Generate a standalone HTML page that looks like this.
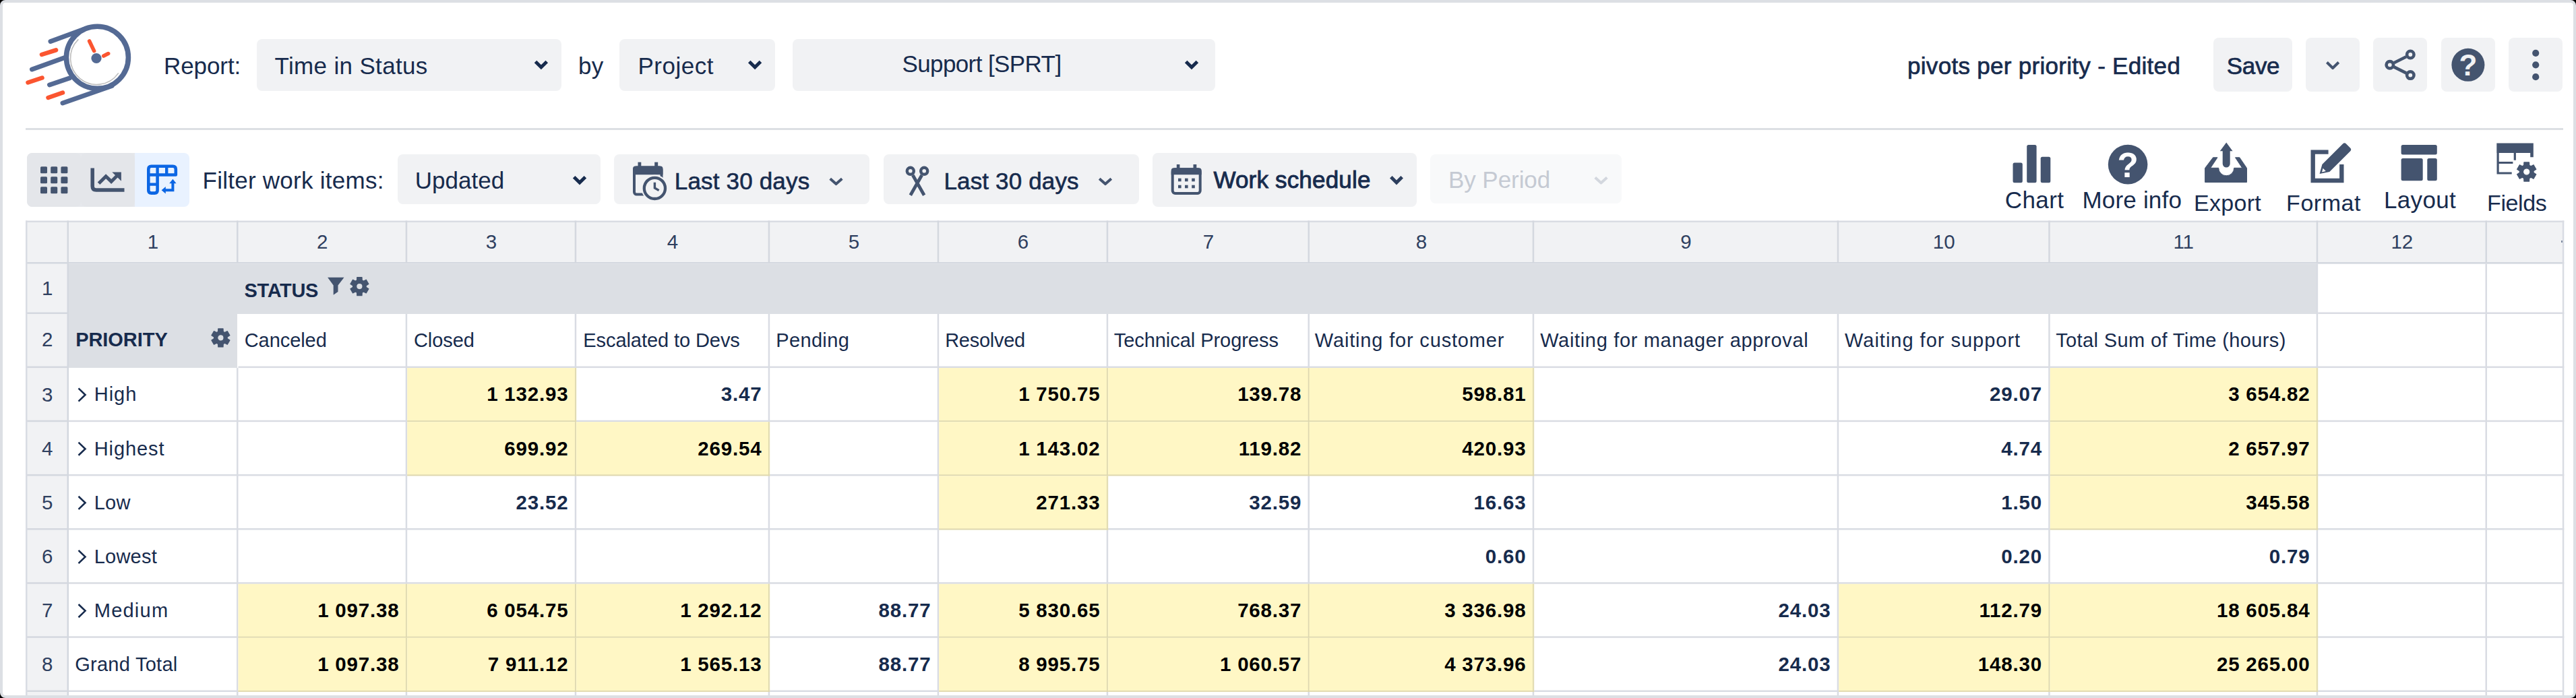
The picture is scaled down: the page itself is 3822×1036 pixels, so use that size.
<!DOCTYPE html>
<html><head><meta charset="utf-8"><title>Time in Status</title>
<style>
html,body{margin:0;padding:0;background:#000;}
body{width:3822px;height:1036px;overflow:hidden;position:relative;font-family:"Liberation Sans",sans-serif;}
#frame{position:absolute;left:0;top:0;width:3814px;height:1028px;border:4px solid #dcdfe4;border-radius:8px;background:#fff;overflow:hidden}
#page{position:absolute;left:0;top:0;width:3822px;height:1036px;}
#clip{position:absolute;left:4px;top:4px;width:3814px;height:1028px;overflow:hidden;border-radius:5px}
#clip>#page{left:-4px;top:-4px}
</style></head><body>
<div id="frame"></div>
<div id="clip"><div id="page">
<svg style="position:absolute;left:0;top:0;overflow:visible" width="3822" height="1036" viewBox="0 0 3822 1036">
<g fill="none" stroke-linecap="round">
 <g stroke="#546a94" stroke-width="7">
  <circle cx="144.4" cy="85.3" r="46" stroke-width="7.6"/>
  <path d="M75 61.5 L128 42"/>
  <path d="M47.5 103 L96 85.5"/>
  <path d="M73.5 126 L103 116"/>
  <path d="M93 153 L166 127.5"/>
 </g>
 <path d="M115.9 58.9 A39 39 0 1 0 175.4 108.9" stroke="#bdbdbd" stroke-width="1.6"/>
 <g stroke="#fb5530" stroke-width="6.5">
  <path d="M62 81 L83 74.3"/>
  <path d="M41.5 122.5 L62.5 115.5"/>
  <path d="M71.5 145 L93 137.5"/>
 </g>
 <g stroke="#fb5530" stroke-width="5.6" stroke-linecap="round">
  <path d="M132.6 61 L139.6 75.6" stroke-linecap="round"/>
  <path d="M153.8 83 L160.6 79.6"/>
 </g>
 <circle cx="143" cy="86.5" r="7.6" fill="#546a94" stroke="none"/>
</g></svg>
<div style="position:absolute;left:381.00px;top:58.00px;width:452.00px;height:76.50px;background:#f1f2f4;border-radius:8px;"></div>
<div style="position:absolute;left:919.00px;top:58.00px;width:231.00px;height:76.50px;background:#f1f2f4;border-radius:8px;"></div>
<div style="position:absolute;left:1176.00px;top:58.00px;width:626.60px;height:76.50px;background:#f1f2f4;border-radius:8px;"></div>
<svg style="position:absolute;left:0;top:0;overflow:visible" width="3822" height="1036" viewBox="0 0 3822 1036"><path d="M794.5 91.55 L802.9 99.85000000000001 L811.3 91.55" fill="none" stroke="#172b4d" stroke-width="5" stroke-linecap="butt" stroke-linejoin="miter"/><path d="M1111.6999999999998 91.55 L1120.1 99.85000000000001 L1128.5 91.55" fill="none" stroke="#172b4d" stroke-width="5" stroke-linecap="butt" stroke-linejoin="miter"/><path d="M1759.6 91.55 L1768 99.85000000000001 L1776.4 91.55" fill="none" stroke="#172b4d" stroke-width="5" stroke-linecap="butt" stroke-linejoin="miter"/></svg>
<div style="position:absolute;left:3284.40px;top:56.00px;width:116.30px;height:80.00px;background:#f1f2f4;border-radius:8px;"></div>
<div style="position:absolute;left:3421.00px;top:56.00px;width:80.00px;height:80.00px;background:#f1f2f4;border-radius:8px;"></div>
<div style="position:absolute;left:3521.40px;top:56.00px;width:80.00px;height:80.00px;background:#f1f2f4;border-radius:8px;"></div>
<div style="position:absolute;left:3621.70px;top:56.00px;width:80.00px;height:80.00px;background:#f1f2f4;border-radius:8px;"></div>
<div style="position:absolute;left:3722.00px;top:56.00px;width:80.00px;height:80.00px;background:#f1f2f4;border-radius:8px;"></div>
<svg style="position:absolute;left:0;top:0;overflow:visible" width="3822" height="1036" viewBox="0 0 3822 1036"><path d="M3452.4 92.55 L3461.1 101.05 L3469.7999999999997 92.55" fill="none" stroke="#44546f" stroke-width="4" stroke-linecap="butt" stroke-linejoin="round"/><g fill="none" stroke="#44546f" stroke-width="4.6"><path d="M3570 84.2 L3552 93.2 M3552 99.4 L3570 108.4"/><circle cx="3576.3" cy="81" r="5.2"/><circle cx="3545.8" cy="96.3" r="5.2"/><circle cx="3576.3" cy="111.6" r="5.2"/></g><circle cx="3661.9" cy="96.3" r="24.5" fill="#44546f"/><circle cx="3762.2" cy="78.8" r="5.1" fill="#44546f"/><circle cx="3762.2" cy="96.3" r="5.1" fill="#44546f"/><circle cx="3762.2" cy="114.2" r="5.1" fill="#44546f"/></svg>
<div style="position:absolute;left:38.00px;top:190.20px;width:3764.60px;height:2.40px;background:#dcdfe4;border-radius:0px;"></div>
<div style="position:absolute;left:40.00px;top:227.00px;width:200.00px;height:80.00px;background:#e6e8ec;border-radius:8px;"></div>
<div style="position:absolute;left:40.00px;top:227.00px;width:80.00px;height:80.00px;background:#e4e6ea;border-radius:8px;"></div>
<div style="position:absolute;left:120.00px;top:227.00px;width:80.00px;height:80.00px;background:#e4e6ea;border-radius:8px;"></div>
<div style="position:absolute;left:200.00px;top:227.00px;width:81.00px;height:80.00px;background:#e9f2ff;border-radius:0px;border-radius:0 8px 8px 0;"></div>
<svg style="position:absolute;left:0;top:0;overflow:visible" width="3822" height="1036" viewBox="0 0 3822 1036"><rect x="60.0" y="247.3" width="10" height="10" rx="1.5" fill="#44546f"/><rect x="75.2" y="247.3" width="10" height="10" rx="1.5" fill="#44546f"/><rect x="90.4" y="247.3" width="10" height="10" rx="1.5" fill="#44546f"/><rect x="60.0" y="262.3" width="10" height="10" rx="1.5" fill="#44546f"/><rect x="75.2" y="262.3" width="10" height="10" rx="1.5" fill="#44546f"/><rect x="90.4" y="262.3" width="10" height="10" rx="1.5" fill="#44546f"/><rect x="60.0" y="277.3" width="10" height="10" rx="1.5" fill="#44546f"/><rect x="75.2" y="277.3" width="10" height="10" rx="1.5" fill="#44546f"/><rect x="90.4" y="277.3" width="10" height="10" rx="1.5" fill="#44546f"/><path d="M137.2 249.5 V276.5 Q137.2 282 142.7 282 H184.5" fill="none" stroke="#44546f" stroke-width="5.5" stroke-linecap="butt"/><path d="M146.5 272.3 L157.1 261.7 L165.1 269.4 L175 259.5" fill="none" stroke="#44546f" stroke-width="5" stroke-linejoin="miter"/><path d="M166.3 255.4 H179.9 V268.8 Z" fill="#44546f"/><g fill="none" stroke="#0c66e4" stroke-width="4.6" stroke-linejoin="round"><path d="M224.5 246.8 H256.5 Q260.8 246.8 260.8 251 V259.5 H233.6 V282.5 Q233.6 286.6 229.5 286.6 H224.5 Q220.3 286.6 220.3 282.5 V251 Q220.3 246.8 224.5 246.8Z"/><path d="M233.6 246.8 V259.5 M247.2 246.8 V259.5 M220.3 259.5 H233.6 M220.3 273.6 H233.6" stroke-width="4.4"/></g><path d="M256.4 270 V282.2 H244" fill="none" stroke="#0c66e4" stroke-width="4"/><path d="M251.2 272.2 L256.4 265.8 L261.6 272.2Z M245.8 277 L239.6 282.2 L245.8 287.4Z" fill="#0c66e4"/></svg>
<div style="position:absolute;left:590.00px;top:229.00px;width:301.00px;height:74.00px;background:#f1f2f4;border-radius:8px;"></div>
<div style="position:absolute;left:911.20px;top:229.00px;width:379.30px;height:74.00px;background:#f1f2f4;border-radius:8px;"></div>
<div style="position:absolute;left:1310.80px;top:229.00px;width:379.70px;height:74.00px;background:#f1f2f4;border-radius:8px;"></div>
<div style="position:absolute;left:1710.40px;top:226.60px;width:391.50px;height:80.20px;background:#f1f2f4;border-radius:8px;"></div>
<div style="position:absolute;left:2121.70px;top:228.60px;width:284.70px;height:73.80px;background:#f8f9fa;border-radius:8px;"></div>
<svg style="position:absolute;left:0;top:0;overflow:visible" width="3822" height="1036" viewBox="0 0 3822 1036"><path d="M851.6 262.75 L860 271.04999999999995 L868.4 262.75" fill="none" stroke="#172b4d" stroke-width="5" stroke-linecap="butt" stroke-linejoin="miter"/><path d="M1231.7 265.3 L1240.5 273.09999999999997 L1249.3 265.3" fill="none" stroke="#44546f" stroke-width="4" stroke-linecap="butt" stroke-linejoin="round"/><path d="M1631.2 265.3 L1640 273.09999999999997 L1648.8 265.3" fill="none" stroke="#44546f" stroke-width="4" stroke-linecap="butt" stroke-linejoin="round"/><path d="M2063.8 262.79999999999995 L2072 271.0 L2080.2 262.79999999999995" fill="none" stroke="#2c3e5d" stroke-width="5" stroke-linecap="butt" stroke-linejoin="miter"/><path d="M2366.7 263.6 L2375.5 271.4 L2384.3 263.6" fill="none" stroke="#d3d7de" stroke-width="4" stroke-linecap="butt" stroke-linejoin="round"/><g><rect x="941" y="248.6" width="40.5" height="40" rx="3.5" fill="none" stroke="#44546f" stroke-width="4"/><path d="M939 259.2 V250.6 Q939 246.6 943 246.6 H979.5 Q983.5 246.6 983.5 250.6 V259.2Z" fill="#44546f"/><rect x="946.5" y="240.7" width="4.8" height="8" fill="#44546f"/><rect x="971.2" y="240.7" width="5" height="8" fill="#44546f"/><circle cx="971.4" cy="279.4" r="19.8" fill="#f1f2f4"/><circle cx="971.4" cy="279.4" r="15.6" fill="#f1f2f4" stroke="#44546f" stroke-width="4.3"/><path d="M971.4 270.8 V279 L977.6 282.6" fill="none" stroke="#44546f" stroke-width="3.4"/></g><g fill="none" stroke="#44546f" stroke-width="4.4"><circle cx="1350.8" cy="253.8" r="5"/><circle cx="1371.2" cy="253.8" r="5"/><path d="M1354.3 260 L1371.2 289.8 M1367.7 260 L1350.8 289.8" stroke-width="4.8"/></g><g><rect x="1739.7" y="251.3" width="41" height="35.7" rx="4" fill="none" stroke="#44546f" stroke-width="4"/><path d="M1737.7 259.3 V253.3 Q1737.7 249.3 1741.7 249.3 H1778.7 Q1782.7 249.3 1782.7 253.3 V259.3Z" fill="#44546f"/><rect x="1745.8" y="244" width="4.6" height="7" fill="#44546f"/><rect x="1770.5" y="244" width="4.8" height="7" fill="#44546f"/><rect x="1748.0" y="264.7" width="4.6" height="4.6" fill="#44546f"/><rect x="1748.0" y="274.7" width="4.6" height="4.6" fill="#44546f"/><rect x="1758.0" y="264.7" width="4.6" height="4.6" fill="#44546f"/><rect x="1758.0" y="274.7" width="4.6" height="4.6" fill="#44546f"/><rect x="1768.2" y="264.7" width="4.6" height="4.6" fill="#44546f"/><rect x="1768.2" y="274.7" width="4.6" height="4.6" fill="#44546f"/></g></svg>
<svg style="position:absolute;left:0;top:0;overflow:visible" width="3822" height="1036" viewBox="0 0 3822 1036"><rect x="2986.5" y="241.5" width="14.3" height="29.7" rx="2.5" fill="#44546f"/><rect x="3007.2" y="215" width="14.4" height="56.2" rx="2.5" fill="#44546f"/><rect x="3027.7" y="232.7" width="14.6" height="38.5" rx="2.5" fill="#44546f"/><circle cx="3157.1" cy="244.1" r="29.3" fill="#44546f"/><path d="M3271.6 270.5 V249.5 L3283.5 233.8 H3290 L3279.7 249.3 H3291.7 A11.5 11.5 0 0 0 3314.7 249.3 H3326.7 L3316.5 233.8 H3322.8 L3333.5 249.5 V270.5Z" fill="#44546f" stroke="#44546f" stroke-width="1" stroke-linejoin="round"/><path d="M3303.2 211.5 L3312.6 224.3 H3308.7 V243 A5.5 5.5 0 0 1 3297.7 243 V224.3 H3293.8Z" fill="#44546f"/><path d="M3454.6 225.6 H3431.7 V268 H3474.3 V244.1" fill="none" stroke="#44546f" stroke-width="6.4"/><path d="M3445.4 244.1 L3476 213.5 Q3478.5 211 3481 213.5 L3487 219.5 Q3489.5 222 3487 224.5 L3456.3 255 L3441.6 257.9Z" fill="#44546f"/><path d="M3446.6 249.8 L3450.8 254 L3445 255.4Z" fill="#fff"/><rect x="3562.6" y="215" width="53.2" height="14.5" rx="2.5" fill="#44546f"/><rect x="3562.6" y="235.1" width="32.1" height="33.1" rx="2.5" fill="#44546f"/><rect x="3601.3" y="235.1" width="14.5" height="33.1" rx="2.5" fill="#44546f"/><path d="M3704.3 212.4 H3758.8 V233.2 H3754.2 V227 H3704.3Z" fill="#44546f"/><path d="M3706.1 227 V257 H3726.7 M3706.1 241.5 H3728.4 M3731.3 227 V237.8" fill="none" stroke="#44546f" stroke-width="3.2"/><path d="M3753.90 245.99 L3752.73 245.41 L3752.48 240.90 L3744.92 240.90 L3744.67 245.41 L3743.50 245.99 L3742.41 246.72 L3738.38 244.68 L3734.60 251.22 L3738.38 253.70 L3738.30 255.00 L3738.38 256.30 L3734.60 258.78 L3738.38 265.32 L3742.41 263.28 L3743.50 264.01 L3744.67 264.59 L3744.92 269.10 L3752.48 269.10 L3752.73 264.59 L3753.90 264.01 L3754.99 263.28 L3759.02 265.32 L3762.80 258.78 L3759.02 256.30 L3759.10 255.00 L3759.02 253.70 L3762.80 251.22 L3759.02 244.68 L3754.99 246.72Z M3743.50 255.00 a5.2 5.2 0 1 0 10.4 0 a5.2 5.2 0 1 0 -10.4 0Z" fill="#44546f" fill-rule="evenodd" stroke="#44546f" stroke-width="1.2" stroke-linejoin="round"/></svg>
<div style="position:absolute;left:38.00px;top:327.50px;width:3766.30px;height:704.50px;background:#fff;border-radius:0px;"></div>
<div style="position:absolute;left:38.00px;top:327.50px;width:3766.30px;height:64.00px;background:#f1f2f4;border-radius:0px;"></div>
<div style="position:absolute;left:38.00px;top:327.50px;width:64.00px;height:704.50px;background:#f1f2f4;border-radius:0px;"></div>
<div style="position:absolute;left:102.00px;top:391.50px;width:3335.30px;height:74.50px;background:#dcdfe4;border-radius:0px;"></div>
<div style="position:absolute;left:102.00px;top:391.50px;width:250.30px;height:154.60px;background:#dcdfe4;border-radius:0px;"></div>
<svg style="position:absolute;left:0;top:0;overflow:visible" width="3822" height="1036" viewBox="0 0 3822 1036"><rect x="38.00" y="327.50" width="3766.30" height="2.5" fill="#d9dce3"/><rect x="38.00" y="389.00" width="3766.30" height="2.5" fill="#d4d8df"/><rect x="38.00" y="463.50" width="64.00" height="2.5" fill="#d4d8df"/><rect x="38.00" y="543.60" width="64.00" height="2.5" fill="#d4d8df"/><rect x="38.00" y="623.70" width="64.00" height="2.5" fill="#d4d8df"/><rect x="38.00" y="703.90" width="64.00" height="2.5" fill="#d4d8df"/><rect x="38.00" y="784.00" width="64.00" height="2.5" fill="#d4d8df"/><rect x="38.00" y="864.20" width="64.00" height="2.5" fill="#d4d8df"/><rect x="38.00" y="944.30" width="64.00" height="2.5" fill="#d4d8df"/><rect x="38.00" y="1024.50" width="64.00" height="2.5" fill="#d4d8df"/><rect x="3439.20" y="463.50" width="365.10" height="2.5" fill="#d9dce3"/><rect x="353.50" y="543.60" width="3450.80" height="2.5" fill="#d9dce3"/><rect x="102.00" y="623.70" width="3702.30" height="2.5" fill="#d9dce3"/><rect x="102.00" y="703.90" width="3702.30" height="2.5" fill="#d9dce3"/><rect x="102.00" y="784.00" width="3702.30" height="2.5" fill="#d9dce3"/><rect x="102.00" y="864.20" width="3702.30" height="2.5" fill="#d9dce3"/><rect x="102.00" y="944.30" width="3702.30" height="2.5" fill="#d9dce3"/><rect x="102.00" y="1024.50" width="3702.30" height="2.5" fill="#d9dce3"/><rect x="38.00" y="327.50" width="2.5" height="704.50" fill="#d9dce3"/><rect x="99.50" y="327.50" width="2.5" height="704.50" fill="#d4d8df"/><rect x="351.00" y="327.50" width="2.5" height="61.50" fill="#d4d8df"/><rect x="601.70" y="327.50" width="2.5" height="61.50" fill="#d4d8df"/><rect x="852.70" y="327.50" width="2.5" height="61.50" fill="#d4d8df"/><rect x="1139.70" y="327.50" width="2.5" height="61.50" fill="#d4d8df"/><rect x="1390.70" y="327.50" width="2.5" height="61.50" fill="#d4d8df"/><rect x="1641.70" y="327.50" width="2.5" height="61.50" fill="#d4d8df"/><rect x="1940.50" y="327.50" width="2.5" height="61.50" fill="#d4d8df"/><rect x="2273.70" y="327.50" width="2.5" height="61.50" fill="#d4d8df"/><rect x="2725.70" y="327.50" width="2.5" height="61.50" fill="#d4d8df"/><rect x="3039.20" y="327.50" width="2.5" height="61.50" fill="#d4d8df"/><rect x="3436.70" y="327.50" width="2.5" height="61.50" fill="#d4d8df"/><rect x="3687.50" y="327.50" width="2.5" height="61.50" fill="#d4d8df"/><rect x="3801.80" y="327.50" width="2.5" height="704.50" fill="#d9dce3"/><rect x="351.00" y="546.10" width="2.5" height="485.90" fill="#d9dce3"/><rect x="601.70" y="466.00" width="2.5" height="566.00" fill="#d9dce3"/><rect x="852.70" y="466.00" width="2.5" height="566.00" fill="#d9dce3"/><rect x="1139.70" y="466.00" width="2.5" height="566.00" fill="#d9dce3"/><rect x="1390.70" y="466.00" width="2.5" height="566.00" fill="#d9dce3"/><rect x="1641.70" y="466.00" width="2.5" height="566.00" fill="#d9dce3"/><rect x="1940.50" y="466.00" width="2.5" height="566.00" fill="#d9dce3"/><rect x="2273.70" y="466.00" width="2.5" height="566.00" fill="#d9dce3"/><rect x="2725.70" y="466.00" width="2.5" height="566.00" fill="#d9dce3"/><rect x="3039.20" y="466.00" width="2.5" height="566.00" fill="#d9dce3"/><rect x="3436.70" y="391.50" width="2.5" height="640.50" fill="#d9dce3"/><rect x="3687.50" y="391.50" width="2.5" height="640.50" fill="#d9dce3"/><rect x="604.20" y="546.10" width="251.00" height="80.10" fill="#fff7c5"/><rect x="853.00" y="546.10" width="1.7" height="80.10" fill="#ddd7b0"/><rect x="604.20" y="624.20" width="251.00" height="1.7" fill="#ddd7b0"/><rect x="1393.20" y="546.10" width="251.00" height="80.10" fill="#fff7c5"/><rect x="1642.00" y="546.10" width="1.7" height="80.10" fill="#ddd7b0"/><rect x="1393.20" y="624.20" width="251.00" height="1.7" fill="#ddd7b0"/><rect x="1644.20" y="546.10" width="298.80" height="80.10" fill="#fff7c5"/><rect x="1940.80" y="546.10" width="1.7" height="80.10" fill="#ddd7b0"/><rect x="1644.20" y="624.20" width="298.80" height="1.7" fill="#ddd7b0"/><rect x="1943.00" y="546.10" width="333.20" height="80.10" fill="#fff7c5"/><rect x="2274.00" y="546.10" width="1.7" height="80.10" fill="#ddd7b0"/><rect x="1943.00" y="624.20" width="333.20" height="1.7" fill="#ddd7b0"/><rect x="3041.70" y="546.10" width="397.50" height="80.10" fill="#fff7c5"/><rect x="3437.00" y="546.10" width="1.7" height="80.10" fill="#ddd7b0"/><rect x="3041.70" y="624.20" width="397.50" height="1.7" fill="#ddd7b0"/><rect x="604.20" y="626.20" width="251.00" height="80.20" fill="#fff7c5"/><rect x="853.00" y="626.20" width="1.7" height="80.20" fill="#ddd7b0"/><rect x="604.20" y="704.40" width="251.00" height="1.7" fill="#ddd7b0"/><rect x="855.20" y="626.20" width="287.00" height="80.20" fill="#fff7c5"/><rect x="1140.00" y="626.20" width="1.7" height="80.20" fill="#ddd7b0"/><rect x="855.20" y="704.40" width="287.00" height="1.7" fill="#ddd7b0"/><rect x="1393.20" y="626.20" width="251.00" height="80.20" fill="#fff7c5"/><rect x="1642.00" y="626.20" width="1.7" height="80.20" fill="#ddd7b0"/><rect x="1393.20" y="704.40" width="251.00" height="1.7" fill="#ddd7b0"/><rect x="1644.20" y="626.20" width="298.80" height="80.20" fill="#fff7c5"/><rect x="1940.80" y="626.20" width="1.7" height="80.20" fill="#ddd7b0"/><rect x="1644.20" y="704.40" width="298.80" height="1.7" fill="#ddd7b0"/><rect x="1943.00" y="626.20" width="333.20" height="80.20" fill="#fff7c5"/><rect x="2274.00" y="626.20" width="1.7" height="80.20" fill="#ddd7b0"/><rect x="1943.00" y="704.40" width="333.20" height="1.7" fill="#ddd7b0"/><rect x="3041.70" y="626.20" width="397.50" height="80.20" fill="#fff7c5"/><rect x="3437.00" y="626.20" width="1.7" height="80.20" fill="#ddd7b0"/><rect x="3041.70" y="704.40" width="397.50" height="1.7" fill="#ddd7b0"/><rect x="1393.20" y="706.40" width="251.00" height="80.10" fill="#fff7c5"/><rect x="1642.00" y="706.40" width="1.7" height="80.10" fill="#ddd7b0"/><rect x="1393.20" y="784.50" width="251.00" height="1.7" fill="#ddd7b0"/><rect x="3041.70" y="706.40" width="397.50" height="80.10" fill="#fff7c5"/><rect x="3437.00" y="706.40" width="1.7" height="80.10" fill="#ddd7b0"/><rect x="3041.70" y="784.50" width="397.50" height="1.7" fill="#ddd7b0"/><rect x="353.50" y="866.70" width="250.70" height="80.10" fill="#fff7c5"/><rect x="602.00" y="866.70" width="1.7" height="80.10" fill="#ddd7b0"/><rect x="353.50" y="944.80" width="250.70" height="1.7" fill="#ddd7b0"/><rect x="604.20" y="866.70" width="251.00" height="80.10" fill="#fff7c5"/><rect x="853.00" y="866.70" width="1.7" height="80.10" fill="#ddd7b0"/><rect x="604.20" y="944.80" width="251.00" height="1.7" fill="#ddd7b0"/><rect x="855.20" y="866.70" width="287.00" height="80.10" fill="#fff7c5"/><rect x="1140.00" y="866.70" width="1.7" height="80.10" fill="#ddd7b0"/><rect x="855.20" y="944.80" width="287.00" height="1.7" fill="#ddd7b0"/><rect x="1393.20" y="866.70" width="251.00" height="80.10" fill="#fff7c5"/><rect x="1642.00" y="866.70" width="1.7" height="80.10" fill="#ddd7b0"/><rect x="1393.20" y="944.80" width="251.00" height="1.7" fill="#ddd7b0"/><rect x="1644.20" y="866.70" width="298.80" height="80.10" fill="#fff7c5"/><rect x="1940.80" y="866.70" width="1.7" height="80.10" fill="#ddd7b0"/><rect x="1644.20" y="944.80" width="298.80" height="1.7" fill="#ddd7b0"/><rect x="1943.00" y="866.70" width="333.20" height="80.10" fill="#fff7c5"/><rect x="2274.00" y="866.70" width="1.7" height="80.10" fill="#ddd7b0"/><rect x="1943.00" y="944.80" width="333.20" height="1.7" fill="#ddd7b0"/><rect x="2728.20" y="866.70" width="313.50" height="80.10" fill="#fff7c5"/><rect x="3039.50" y="866.70" width="1.7" height="80.10" fill="#ddd7b0"/><rect x="2728.20" y="944.80" width="313.50" height="1.7" fill="#ddd7b0"/><rect x="3041.70" y="866.70" width="397.50" height="80.10" fill="#fff7c5"/><rect x="3437.00" y="866.70" width="1.7" height="80.10" fill="#ddd7b0"/><rect x="3041.70" y="944.80" width="397.50" height="1.7" fill="#ddd7b0"/><rect x="353.50" y="946.80" width="250.70" height="80.20" fill="#fff7c5"/><rect x="602.00" y="946.80" width="1.7" height="80.20" fill="#ddd7b0"/><rect x="353.50" y="1025.00" width="250.70" height="1.7" fill="#ddd7b0"/><rect x="604.20" y="946.80" width="251.00" height="80.20" fill="#fff7c5"/><rect x="853.00" y="946.80" width="1.7" height="80.20" fill="#ddd7b0"/><rect x="604.20" y="1025.00" width="251.00" height="1.7" fill="#ddd7b0"/><rect x="855.20" y="946.80" width="287.00" height="80.20" fill="#fff7c5"/><rect x="1140.00" y="946.80" width="1.7" height="80.20" fill="#ddd7b0"/><rect x="855.20" y="1025.00" width="287.00" height="1.7" fill="#ddd7b0"/><rect x="1393.20" y="946.80" width="251.00" height="80.20" fill="#fff7c5"/><rect x="1642.00" y="946.80" width="1.7" height="80.20" fill="#ddd7b0"/><rect x="1393.20" y="1025.00" width="251.00" height="1.7" fill="#ddd7b0"/><rect x="1644.20" y="946.80" width="298.80" height="80.20" fill="#fff7c5"/><rect x="1940.80" y="946.80" width="1.7" height="80.20" fill="#ddd7b0"/><rect x="1644.20" y="1025.00" width="298.80" height="1.7" fill="#ddd7b0"/><rect x="1943.00" y="946.80" width="333.20" height="80.20" fill="#fff7c5"/><rect x="2274.00" y="946.80" width="1.7" height="80.20" fill="#ddd7b0"/><rect x="1943.00" y="1025.00" width="333.20" height="1.7" fill="#ddd7b0"/><rect x="2728.20" y="946.80" width="313.50" height="80.20" fill="#fff7c5"/><rect x="3039.50" y="946.80" width="1.7" height="80.20" fill="#ddd7b0"/><rect x="2728.20" y="1025.00" width="313.50" height="1.7" fill="#ddd7b0"/><rect x="3041.70" y="946.80" width="397.50" height="80.20" fill="#fff7c5"/><rect x="3437.00" y="946.80" width="1.7" height="80.20" fill="#ddd7b0"/><rect x="3041.70" y="1025.00" width="397.50" height="1.7" fill="#ddd7b0"/></svg>
<div style="position:absolute;left:3799.60px;top:356.80px;width:2.20px;height:3.00px;background:#7d8aa0;border-radius:0px;"></div>
<svg style="position:absolute;left:0;top:0;overflow:visible" width="3822" height="1036" viewBox="0 0 3822 1036"><path d="M486.1 411.8 H510.5 L501.5 423.6 V433 L494.7 437.8 V423.6Z" fill="#44546f"/><path d="M538.30 416.61 L537.20 416.07 L537.02 411.58 L529.78 411.58 L529.60 416.07 L528.50 416.61 L527.47 417.29 L523.50 415.20 L519.88 421.48 L523.68 423.87 L523.60 425.10 L523.68 426.33 L519.88 428.72 L523.50 435.00 L527.47 432.91 L528.50 433.59 L529.60 434.13 L529.78 438.62 L537.02 438.62 L537.20 434.13 L538.30 433.59 L539.33 432.91 L543.30 435.00 L546.92 428.72 L543.12 426.33 L543.20 425.10 L543.12 423.87 L546.92 421.48 L543.30 415.20 L539.33 417.29Z M528.70 425.10 a4.7 4.7 0 1 0 9.4 0 a4.7 4.7 0 1 0 -9.4 0Z" fill="#44546f" fill-rule="evenodd" stroke="#44546f" stroke-width="1.2" stroke-linejoin="round"/><path d="M332.30 492.91 L331.20 492.37 L331.02 487.88 L323.78 487.88 L323.60 492.37 L322.50 492.91 L321.47 493.59 L317.50 491.50 L313.88 497.78 L317.68 500.17 L317.60 501.40 L317.68 502.63 L313.88 505.02 L317.50 511.30 L321.47 509.21 L322.50 509.89 L323.60 510.43 L323.78 514.92 L331.02 514.92 L331.20 510.43 L332.30 509.89 L333.33 509.21 L337.30 511.30 L340.92 505.02 L337.12 502.63 L337.20 501.40 L337.12 500.17 L340.92 497.78 L337.30 491.50 L333.33 493.59Z M322.70 501.40 a4.7 4.7 0 1 0 9.4 0 a4.7 4.7 0 1 0 -9.4 0Z" fill="#44546f" fill-rule="evenodd" stroke="#44546f" stroke-width="1.2" stroke-linejoin="round"/><path d="M116.5 576.4 L126.5 586.0 L116.5 595.6" fill="none" stroke="#172b4d" stroke-width="2.6"/><path d="M116.5 656.6 L126.5 666.2 L116.5 675.8" fill="none" stroke="#172b4d" stroke-width="2.6"/><path d="M116.5 736.7 L126.5 746.3 L116.5 755.9" fill="none" stroke="#172b4d" stroke-width="2.6"/><path d="M116.5 816.9 L126.5 826.5 L116.5 836.1" fill="none" stroke="#172b4d" stroke-width="2.6"/><path d="M116.5 897.0 L126.5 906.6 L116.5 916.2" fill="none" stroke="#172b4d" stroke-width="2.6"/></svg>
<div style="position:absolute;top:80.37px;font-size:35px;line-height:35px;font-weight:400;color:#172b4d;white-space:pre;letter-spacing:-0.090px;left:243.00px;">Report:</div>
<div style="position:absolute;top:79.97px;font-size:35px;line-height:35px;font-weight:400;color:#172b4d;white-space:pre;letter-spacing:0.340px;left:407.50px;">Time in Status</div>
<div style="position:absolute;top:79.97px;font-size:35px;line-height:35px;font-weight:400;color:#172b4d;white-space:pre;letter-spacing:0.341px;left:858.00px;">by</div>
<div style="position:absolute;top:79.97px;font-size:35px;line-height:35px;font-weight:400;color:#172b4d;white-space:pre;letter-spacing:0.545px;left:946.40px;">Project</div>
<div style="position:absolute;top:76.57px;font-size:35px;line-height:35px;font-weight:400;color:#172b4d;white-space:pre;letter-spacing:-0.595px;left:1338.40px;">Support [SPRT]</div>
<div style="position:absolute;top:79.97px;font-size:35px;line-height:35px;font-weight:400;color:#172b4d;white-space:pre;letter-spacing:0.297px;-webkit-text-stroke:0.7px #172b4d;left:2830.00px;">pivots per priority - Edited</div>
<div style="position:absolute;top:80.17px;font-size:35px;line-height:35px;font-weight:400;color:#172b4d;white-space:pre;letter-spacing:-0.358px;-webkit-text-stroke:0.7px #172b4d;left:3303.80px;">Save</div>
<div style="position:absolute;top:75.35px;font-size:44px;line-height:44px;font-weight:700;color:#f1f2f4;white-space:pre;letter-spacing:0.000px;left:3648.45px;">?</div>
<div style="position:absolute;top:249.57px;font-size:35px;line-height:35px;font-weight:400;color:#172b4d;white-space:pre;letter-spacing:0.260px;left:300.50px;">Filter work items:</div>
<div style="position:absolute;top:249.57px;font-size:35px;line-height:35px;font-weight:400;color:#172b4d;white-space:pre;letter-spacing:0.003px;left:615.80px;">Updated</div>
<div style="position:absolute;top:251.37px;font-size:35px;line-height:35px;font-weight:400;color:#172b4d;white-space:pre;letter-spacing:0.173px;-webkit-text-stroke:0.6px #172b4d;left:1000.80px;">Last 30 days</div>
<div style="position:absolute;top:251.37px;font-size:35px;line-height:35px;font-weight:400;color:#172b4d;white-space:pre;letter-spacing:0.157px;-webkit-text-stroke:0.6px #172b4d;left:1400.40px;">Last 30 days</div>
<div style="position:absolute;top:249.37px;font-size:35px;line-height:35px;font-weight:400;color:#172b4d;white-space:pre;letter-spacing:0.176px;-webkit-text-stroke:0.9px #172b4d;left:1800.40px;">Work schedule</div>
<div style="position:absolute;top:249.37px;font-size:35px;line-height:35px;font-weight:400;color:#c5cad3;white-space:pre;letter-spacing:-0.067px;left:2149.00px;">By Period</div>
<div style="position:absolute;top:220.43px;font-size:51px;line-height:51px;font-weight:700;color:#fff;white-space:pre;letter-spacing:0.000px;left:3141.52px;">?</div>
<div style="position:absolute;top:279.37px;font-size:35px;line-height:35px;font-weight:400;color:#172b4d;white-space:pre;letter-spacing:0.451px;left:2974.70px;">Chart</div>
<div style="position:absolute;top:279.37px;font-size:35px;line-height:35px;font-weight:400;color:#172b4d;white-space:pre;letter-spacing:0.183px;left:3089.50px;">More info</div>
<div style="position:absolute;top:283.62px;font-size:34px;line-height:34px;font-weight:400;color:#172b4d;white-space:pre;letter-spacing:0.299px;left:3255.06px;">Export</div>
<div style="position:absolute;top:283.62px;font-size:34px;line-height:34px;font-weight:400;color:#172b4d;white-space:pre;letter-spacing:0.562px;left:3392.06px;">Format</div>
<div style="position:absolute;top:279.37px;font-size:35px;line-height:35px;font-weight:400;color:#172b4d;white-space:pre;letter-spacing:0.343px;left:3537.00px;">Layout</div>
<div style="position:absolute;top:283.62px;font-size:34px;line-height:34px;font-weight:400;color:#172b4d;white-space:pre;letter-spacing:-0.391px;left:3690.06px;">Fields</div>
<div style="position:absolute;top:344.23px;font-size:29.5px;line-height:29.5px;font-weight:400;color:#2f4060;white-space:pre;letter-spacing:0.000px;left:218.79px;">1</div>
<div style="position:absolute;top:344.23px;font-size:29.5px;line-height:29.5px;font-weight:400;color:#2f4060;white-space:pre;letter-spacing:0.000px;left:469.89px;">2</div>
<div style="position:absolute;top:344.23px;font-size:29.5px;line-height:29.5px;font-weight:400;color:#2f4060;white-space:pre;letter-spacing:0.000px;left:720.74px;">3</div>
<div style="position:absolute;top:344.23px;font-size:29.5px;line-height:29.5px;font-weight:400;color:#2f4060;white-space:pre;letter-spacing:0.000px;left:989.74px;">4</div>
<div style="position:absolute;top:344.23px;font-size:29.5px;line-height:29.5px;font-weight:400;color:#2f4060;white-space:pre;letter-spacing:0.000px;left:1258.74px;">5</div>
<div style="position:absolute;top:344.23px;font-size:29.5px;line-height:29.5px;font-weight:400;color:#2f4060;white-space:pre;letter-spacing:0.000px;left:1509.74px;">6</div>
<div style="position:absolute;top:344.23px;font-size:29.5px;line-height:29.5px;font-weight:400;color:#2f4060;white-space:pre;letter-spacing:0.000px;left:1784.64px;">7</div>
<div style="position:absolute;top:344.23px;font-size:29.5px;line-height:29.5px;font-weight:400;color:#2f4060;white-space:pre;letter-spacing:0.000px;left:2100.64px;">8</div>
<div style="position:absolute;top:344.23px;font-size:29.5px;line-height:29.5px;font-weight:400;color:#2f4060;white-space:pre;letter-spacing:0.000px;left:2493.24px;">9</div>
<div style="position:absolute;top:344.23px;font-size:29.5px;line-height:29.5px;font-weight:400;color:#2f4060;white-space:pre;letter-spacing:0.000px;left:2867.79px;">10</div>
<div style="position:absolute;top:344.23px;font-size:29.5px;line-height:29.5px;font-weight:400;color:#2f4060;white-space:pre;letter-spacing:0.000px;left:3224.39px;">11</div>
<div style="position:absolute;top:344.23px;font-size:29.5px;line-height:29.5px;font-weight:400;color:#2f4060;white-space:pre;letter-spacing:0.000px;left:3547.44px;">12</div>
<div style="position:absolute;top:413.03px;font-size:29.5px;line-height:29.5px;font-weight:400;color:#2f4060;white-space:pre;letter-spacing:0.000px;left:62.09px;">1</div>
<div style="position:absolute;top:488.63px;font-size:29.5px;line-height:29.5px;font-weight:400;color:#2f4060;white-space:pre;letter-spacing:0.000px;left:62.09px;">2</div>
<div style="position:absolute;top:570.53px;font-size:29.5px;line-height:29.5px;font-weight:400;color:#2f4060;white-space:pre;letter-spacing:0.000px;left:62.09px;">3</div>
<div style="position:absolute;top:650.73px;font-size:29.5px;line-height:29.5px;font-weight:400;color:#2f4060;white-space:pre;letter-spacing:0.000px;left:62.09px;">4</div>
<div style="position:absolute;top:730.83px;font-size:29.5px;line-height:29.5px;font-weight:400;color:#2f4060;white-space:pre;letter-spacing:0.000px;left:62.09px;">5</div>
<div style="position:absolute;top:811.03px;font-size:29.5px;line-height:29.5px;font-weight:400;color:#2f4060;white-space:pre;letter-spacing:0.000px;left:62.09px;">6</div>
<div style="position:absolute;top:891.13px;font-size:29.5px;line-height:29.5px;font-weight:400;color:#2f4060;white-space:pre;letter-spacing:0.000px;left:62.09px;">7</div>
<div style="position:absolute;top:971.33px;font-size:29.5px;line-height:29.5px;font-weight:400;color:#2f4060;white-space:pre;letter-spacing:0.000px;left:62.09px;">8</div>
<div style="position:absolute;top:417.15px;font-size:29px;line-height:29px;font-weight:700;color:#172b4d;white-space:pre;letter-spacing:-0.349px;left:362.44px;">STATUS</div>
<div style="position:absolute;top:490.45px;font-size:29px;line-height:29px;font-weight:700;color:#172b4d;white-space:pre;letter-spacing:-0.045px;left:112.14px;">PRIORITY</div>
<div style="position:absolute;top:490.85px;font-size:29px;line-height:29px;font-weight:400;color:#172b4d;white-space:pre;letter-spacing:-0.065px;left:362.74px;">Canceled</div>
<div style="position:absolute;top:490.85px;font-size:29px;line-height:29px;font-weight:400;color:#172b4d;white-space:pre;letter-spacing:-0.045px;left:613.94px;">Closed</div>
<div style="position:absolute;top:490.85px;font-size:29px;line-height:29px;font-weight:400;color:#172b4d;white-space:pre;letter-spacing:-0.078px;left:865.34px;">Escalated to Devs</div>
<div style="position:absolute;top:490.85px;font-size:29px;line-height:29px;font-weight:400;color:#172b4d;white-space:pre;letter-spacing:0.353px;left:1151.24px;">Pending</div>
<div style="position:absolute;top:490.85px;font-size:29px;line-height:29px;font-weight:400;color:#172b4d;white-space:pre;letter-spacing:-0.262px;left:1402.14px;">Resolved</div>
<div style="position:absolute;top:490.85px;font-size:29px;line-height:29px;font-weight:400;color:#172b4d;white-space:pre;letter-spacing:-0.049px;left:1652.74px;">Technical Progress</div>
<div style="position:absolute;top:490.85px;font-size:29px;line-height:29px;font-weight:400;color:#172b4d;white-space:pre;letter-spacing:0.828px;left:1950.84px;">Waiting for customer</div>
<div style="position:absolute;top:490.85px;font-size:29px;line-height:29px;font-weight:400;color:#172b4d;white-space:pre;letter-spacing:0.674px;left:2285.14px;">Waiting for manager approval</div>
<div style="position:absolute;top:490.85px;font-size:29px;line-height:29px;font-weight:400;color:#172b4d;white-space:pre;letter-spacing:0.989px;left:2737.04px;">Waiting for support</div>
<div style="position:absolute;top:490.85px;font-size:29px;line-height:29px;font-weight:400;color:#172b4d;white-space:pre;letter-spacing:0.384px;left:3050.14px;">Total Sum of Time (hours)</div>
<div style="position:absolute;top:571.35px;font-size:29px;line-height:29px;font-weight:400;color:#172b4d;white-space:pre;letter-spacing:0.988px;left:139.74px;">High</div>
<div style="position:absolute;top:651.55px;font-size:29px;line-height:29px;font-weight:400;color:#172b4d;white-space:pre;letter-spacing:0.897px;left:139.74px;">Highest</div>
<div style="position:absolute;top:731.65px;font-size:29px;line-height:29px;font-weight:400;color:#172b4d;white-space:pre;letter-spacing:0.236px;left:139.74px;">Low</div>
<div style="position:absolute;top:811.85px;font-size:29px;line-height:29px;font-weight:400;color:#172b4d;white-space:pre;letter-spacing:0.220px;left:139.74px;">Lowest</div>
<div style="position:absolute;top:891.95px;font-size:29px;line-height:29px;font-weight:400;color:#172b4d;white-space:pre;letter-spacing:1.242px;left:139.74px;">Medium</div>
<div style="position:absolute;top:972.15px;font-size:29px;line-height:29px;font-weight:400;color:#172b4d;white-space:pre;letter-spacing:0.265px;left:111.24px;">Grand Total</div>
<div style="position:absolute;top:570.43px;font-size:29.5px;line-height:29.5px;font-weight:700;color:#000;white-space:pre;letter-spacing:0.800px;left:722.16px;">1 132.93</div>
<div style="position:absolute;top:570.43px;font-size:29.5px;line-height:29.5px;font-weight:700;color:#172b4d;white-space:pre;letter-spacing:0.800px;left:1069.78px;">3.47</div>
<div style="position:absolute;top:570.43px;font-size:29.5px;line-height:29.5px;font-weight:700;color:#000;white-space:pre;letter-spacing:0.800px;left:1511.16px;">1 750.75</div>
<div style="position:absolute;top:570.43px;font-size:29.5px;line-height:29.5px;font-weight:700;color:#000;white-space:pre;letter-spacing:0.800px;left:1836.17px;">139.78</div>
<div style="position:absolute;top:570.43px;font-size:29.5px;line-height:29.5px;font-weight:700;color:#000;white-space:pre;letter-spacing:0.800px;left:2169.37px;">598.81</div>
<div style="position:absolute;top:570.43px;font-size:29.5px;line-height:29.5px;font-weight:700;color:#172b4d;white-space:pre;letter-spacing:0.800px;left:2952.07px;">29.07</div>
<div style="position:absolute;top:570.43px;font-size:29.5px;line-height:29.5px;font-weight:700;color:#000;white-space:pre;letter-spacing:0.800px;left:3306.16px;">3 654.82</div>
<div style="position:absolute;top:650.63px;font-size:29.5px;line-height:29.5px;font-weight:700;color:#000;white-space:pre;letter-spacing:0.800px;left:748.37px;">699.92</div>
<div style="position:absolute;top:650.63px;font-size:29.5px;line-height:29.5px;font-weight:700;color:#000;white-space:pre;letter-spacing:0.800px;left:1035.37px;">269.54</div>
<div style="position:absolute;top:650.63px;font-size:29.5px;line-height:29.5px;font-weight:700;color:#000;white-space:pre;letter-spacing:0.800px;left:1511.16px;">1 143.02</div>
<div style="position:absolute;top:650.63px;font-size:29.5px;line-height:29.5px;font-weight:700;color:#000;white-space:pre;letter-spacing:0.800px;left:1837.79px;">119.82</div>
<div style="position:absolute;top:650.63px;font-size:29.5px;line-height:29.5px;font-weight:700;color:#000;white-space:pre;letter-spacing:0.800px;left:2169.37px;">420.93</div>
<div style="position:absolute;top:650.63px;font-size:29.5px;line-height:29.5px;font-weight:700;color:#172b4d;white-space:pre;letter-spacing:0.800px;left:2969.28px;">4.74</div>
<div style="position:absolute;top:650.63px;font-size:29.5px;line-height:29.5px;font-weight:700;color:#000;white-space:pre;letter-spacing:0.800px;left:3306.16px;">2 657.97</div>
<div style="position:absolute;top:730.73px;font-size:29.5px;line-height:29.5px;font-weight:700;color:#172b4d;white-space:pre;letter-spacing:0.800px;left:765.57px;">23.52</div>
<div style="position:absolute;top:730.73px;font-size:29.5px;line-height:29.5px;font-weight:700;color:#000;white-space:pre;letter-spacing:0.800px;left:1537.37px;">271.33</div>
<div style="position:absolute;top:730.73px;font-size:29.5px;line-height:29.5px;font-weight:700;color:#172b4d;white-space:pre;letter-spacing:0.800px;left:1853.37px;">32.59</div>
<div style="position:absolute;top:730.73px;font-size:29.5px;line-height:29.5px;font-weight:700;color:#172b4d;white-space:pre;letter-spacing:0.800px;left:2186.57px;">16.63</div>
<div style="position:absolute;top:730.73px;font-size:29.5px;line-height:29.5px;font-weight:700;color:#172b4d;white-space:pre;letter-spacing:0.800px;left:2969.28px;">1.50</div>
<div style="position:absolute;top:730.73px;font-size:29.5px;line-height:29.5px;font-weight:700;color:#000;white-space:pre;letter-spacing:0.800px;left:3332.37px;">345.58</div>
<div style="position:absolute;top:810.93px;font-size:29.5px;line-height:29.5px;font-weight:700;color:#172b4d;white-space:pre;letter-spacing:0.800px;left:2203.78px;">0.60</div>
<div style="position:absolute;top:810.93px;font-size:29.5px;line-height:29.5px;font-weight:700;color:#172b4d;white-space:pre;letter-spacing:0.800px;left:2969.28px;">0.20</div>
<div style="position:absolute;top:810.93px;font-size:29.5px;line-height:29.5px;font-weight:700;color:#172b4d;white-space:pre;letter-spacing:0.800px;left:3366.78px;">0.79</div>
<div style="position:absolute;top:891.03px;font-size:29.5px;line-height:29.5px;font-weight:700;color:#000;white-space:pre;letter-spacing:0.800px;left:471.16px;">1 097.38</div>
<div style="position:absolute;top:891.03px;font-size:29.5px;line-height:29.5px;font-weight:700;color:#000;white-space:pre;letter-spacing:0.800px;left:722.16px;">6 054.75</div>
<div style="position:absolute;top:891.03px;font-size:29.5px;line-height:29.5px;font-weight:700;color:#000;white-space:pre;letter-spacing:0.800px;left:1009.16px;">1 292.12</div>
<div style="position:absolute;top:891.03px;font-size:29.5px;line-height:29.5px;font-weight:700;color:#172b4d;white-space:pre;letter-spacing:0.800px;left:1303.57px;">88.77</div>
<div style="position:absolute;top:891.03px;font-size:29.5px;line-height:29.5px;font-weight:700;color:#000;white-space:pre;letter-spacing:0.800px;left:1511.16px;">5 830.65</div>
<div style="position:absolute;top:891.03px;font-size:29.5px;line-height:29.5px;font-weight:700;color:#000;white-space:pre;letter-spacing:0.800px;left:1836.17px;">768.37</div>
<div style="position:absolute;top:891.03px;font-size:29.5px;line-height:29.5px;font-weight:700;color:#000;white-space:pre;letter-spacing:0.800px;left:2143.16px;">3 336.98</div>
<div style="position:absolute;top:891.03px;font-size:29.5px;line-height:29.5px;font-weight:700;color:#172b4d;white-space:pre;letter-spacing:0.800px;left:2638.57px;">24.03</div>
<div style="position:absolute;top:891.03px;font-size:29.5px;line-height:29.5px;font-weight:700;color:#000;white-space:pre;letter-spacing:0.800px;left:2936.49px;">112.79</div>
<div style="position:absolute;top:891.03px;font-size:29.5px;line-height:29.5px;font-weight:700;color:#000;white-space:pre;letter-spacing:0.800px;left:3288.95px;">18 605.84</div>
<div style="position:absolute;top:971.23px;font-size:29.5px;line-height:29.5px;font-weight:700;color:#000;white-space:pre;letter-spacing:0.800px;left:471.16px;">1 097.38</div>
<div style="position:absolute;top:971.23px;font-size:29.5px;line-height:29.5px;font-weight:700;color:#000;white-space:pre;letter-spacing:0.800px;left:723.78px;">7 911.12</div>
<div style="position:absolute;top:971.23px;font-size:29.5px;line-height:29.5px;font-weight:700;color:#000;white-space:pre;letter-spacing:0.800px;left:1009.16px;">1 565.13</div>
<div style="position:absolute;top:971.23px;font-size:29.5px;line-height:29.5px;font-weight:700;color:#172b4d;white-space:pre;letter-spacing:0.800px;left:1303.57px;">88.77</div>
<div style="position:absolute;top:971.23px;font-size:29.5px;line-height:29.5px;font-weight:700;color:#000;white-space:pre;letter-spacing:0.800px;left:1511.16px;">8 995.75</div>
<div style="position:absolute;top:971.23px;font-size:29.5px;line-height:29.5px;font-weight:700;color:#000;white-space:pre;letter-spacing:0.800px;left:1809.96px;">1 060.57</div>
<div style="position:absolute;top:971.23px;font-size:29.5px;line-height:29.5px;font-weight:700;color:#000;white-space:pre;letter-spacing:0.800px;left:2143.16px;">4 373.96</div>
<div style="position:absolute;top:971.23px;font-size:29.5px;line-height:29.5px;font-weight:700;color:#172b4d;white-space:pre;letter-spacing:0.800px;left:2638.57px;">24.03</div>
<div style="position:absolute;top:971.23px;font-size:29.5px;line-height:29.5px;font-weight:700;color:#000;white-space:pre;letter-spacing:0.800px;left:2934.87px;">148.30</div>
<div style="position:absolute;top:971.23px;font-size:29.5px;line-height:29.5px;font-weight:700;color:#000;white-space:pre;letter-spacing:0.800px;left:3288.95px;">25 265.00</div>
</div></div>
</body></html>
